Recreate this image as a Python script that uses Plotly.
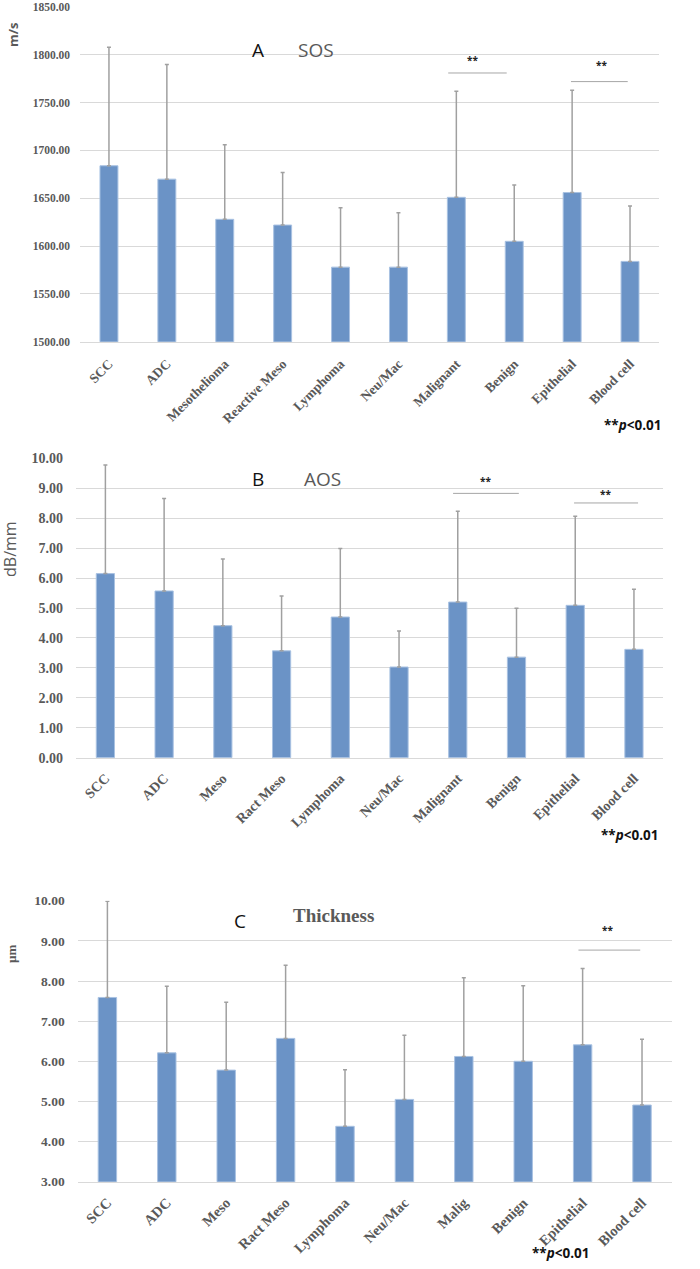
import plotly.graph_objects as go

# ---------------- data ----------------
cats_A = ["SCC", "ADC", "Mesothelioma", "Reactive Meso", "Lymphoma", "Neu/Mac",
          "Malignant", "Benign", "Epithelial", "Blood cell"]
sos_mean = [1684, 1670, 1628, 1622, 1578, 1578, 1651, 1605, 1656, 1584]
sos_upper = [1808, 1790, 1706, 1677, 1640, 1635, 1762, 1664, 1763, 1642]

cats_B = ["SCC", "ADC", "Meso", "Ract Meso", "Lymphoma", "Neu/Mac",
          "Malignant", "Benign", "Epithelial", "Blood cell"]
aos_mean = [6.15, 5.57, 4.41, 3.57, 4.70, 3.03, 5.20, 3.36, 5.09, 3.62]
aos_upper = [9.78, 8.66, 6.64, 5.40, 6.99, 4.23, 8.23, 4.99, 8.07, 5.63]

cats_C = ["SCC", "ADC", "Meso", "Ract Meso", "Lymphoma", "Neu/Mac",
          "Malig", "Benign", "Epithelial", "Blood cell"]
thk_mean = [7.59, 6.21, 5.78, 6.57, 4.38, 5.05, 6.12, 6.00, 6.41, 4.91]
thk_upper = [9.99, 7.87, 7.47, 8.39, 5.79, 6.65, 8.08, 7.88, 8.31, 6.55]

# significance brackets: (x0, x1, y, star_x, star_y)
sig_A = [(5.86, 6.87, 1781, 6.28, 1795), (7.98, 8.96, 1772, 8.5, 1789)]
sig_B = [(5.92, 7.04, 8.83, 6.48, 9.24), (7.98, 9.07, 8.51, 8.51, 8.81)]
sig_C = [(7.93, 8.97, 8.77, 8.42, 9.27)]

# ---------------- style ----------------
BAR = "#6b93c6"
BAR_EDGE = "#a9c2e2"
ERR = "#a0a0a0"
GRID = "#d9d9d9"
TXT = "#595959"
SERIF = "Liberation Serif"
SANS = "Open Sans"

fig = go.Figure()

panels = [
    ("x", "y", cats_A, sos_mean, sos_upper),
    ("x2", "y2", cats_B, aos_mean, aos_upper),
    ("x3", "y3", cats_C, thk_mean, thk_upper),
]
for xa, ya, cats, m, up in panels:
    fig.add_trace(go.Bar(
        x=cats, y=m, xaxis=xa, yaxis=ya, width=0.31,
        marker=dict(color=BAR, line=dict(color=BAR_EDGE, width=1)),
        error_y=dict(type="data", symmetric=False,
                     array=[u - v for u, v in zip(up, m)],
                     arrayminus=[0] * len(m),
                     color=ERR, thickness=1.5, width=2),
        showlegend=False,
    ))

def xaxis_cfg(domain, size, anchor, standoff):
    return dict(domain=domain, anchor=anchor, tickangle=-45, showgrid=False,
                showline=True, linecolor=GRID, linewidth=1, ticks="",
                automargin=False, ticklabelstandoff=standoff,
                tickfont=dict(family=SERIF, size=size, color=TXT, weight="bold"),
                fixedrange=True)

def yaxis_cfg(domain, rng, dtick, size, anchor, standoff):
    return dict(domain=domain, range=rng, dtick=dtick, tick0=rng[0], tickformat=".2f",
                showgrid=True, gridcolor=GRID, gridwidth=1, zeroline=False,
                showline=False, ticks="", anchor=anchor, automargin=False,
                ticklabeloverflow="allow", ticklabelstandoff=standoff,
                tickfont=dict(family=SERIF, size=size, color=TXT, weight="bold"),
                fixedrange=True)

fig.update_layout(
    width=700, height=1269,
    margin=dict(l=0, r=0, t=0, b=0, autoexpand=False),
    paper_bgcolor="white", plot_bgcolor="white",
    xaxis=xaxis_cfg([0.1143, 0.9414], 13.5, "y", 8),
    yaxis=yaxis_cfg([0.7307, 1 - 7 / 1269], [1500, 1850], 50, 11.5, "x", 9),
    xaxis2=xaxis_cfg([0.1086, 0.9476], 14, "y2", 6),
    yaxis2=yaxis_cfg([0.4029, 0.6388], [0, 10], 1, 14, "x2", 12),
    xaxis3=xaxis_cfg([0.1110, 0.9596], 14.5, "y3", 6),
    yaxis3=yaxis_cfg([0.0688, 0.2902], [3, 10], 1, 13.5, "x3", 12),
)

# significance brackets
for sig, xr, yr in [(sig_A, "x", "y"), (sig_B, "x2", "y2"), (sig_C, "x3", "y3")]:
    for x0, x1, yv, sx, sy in sig:
        fig.add_shape(type="line", xref=xr, yref=yr, x0=x0, x1=x1, y0=yv, y1=yv,
                      line=dict(color="#a6a6a6", width=1))
        fig.add_annotation(xref=xr, yref=yr, x=sx, y=sy, text="<b>**</b>",
                           showarrow=False, font=dict(family=SANS, size=10, color="#222"))

ann = []
def txt(x, y, t, size, color, family=SANS, angle=0):
    ann.append(dict(xref="paper", yref="paper", x=x, y=y, text=t, showarrow=False,
                    xanchor="center", yanchor="middle", textangle=angle,
                    font=dict(family=family, size=size, color=color)))

# Panel A
txt(0.0186, 0.9724, "<b>m/s</b>", 13, TXT, SANS, -90)
txt(0.3686, 0.9606, "A", 19, "#111")
txt(0.4514, 0.9606, "SOS", 19, TXT)
txt(633 / 700, 1 - 425 / 1269, "<b>**<i>p</i><0.01</b>", 13.5, "#111")
# Panel B
txt(0.0143, 0.5674, "dB/mm", 16, TXT, SANS, -90)
txt(0.3686, 1 - 479 / 1269, "B", 19, "#111")
txt(0.4614, 1 - 479 / 1269, "AOS", 19, TXT)
txt(630 / 700, 1 - 835 / 1269, "<b>**<i>p</i><0.01</b>", 13.5, "#111")
# Panel C
txt(0.0157, 0.2482, "<b>µm</b>", 13, TXT, SERIF, -90)
txt(240 / 700, 1 - 921 / 1269, "C", 19, "#111")
txt(333 / 700, 1 - 915 / 1269, "<b>Thickness</b>", 19, TXT, SERIF)
txt(561 / 700, 1 - 1253 / 1269, "<b>**<i>p</i><0.01</b>", 13.5, "#111")

fig.update_layout(annotations=list(fig.layout.annotations) + ann)

fig.write_html("out.html", config={"displayModeBar": False},
               post_script="document.body.style.margin='0';document.body.style.overflow='hidden';")
